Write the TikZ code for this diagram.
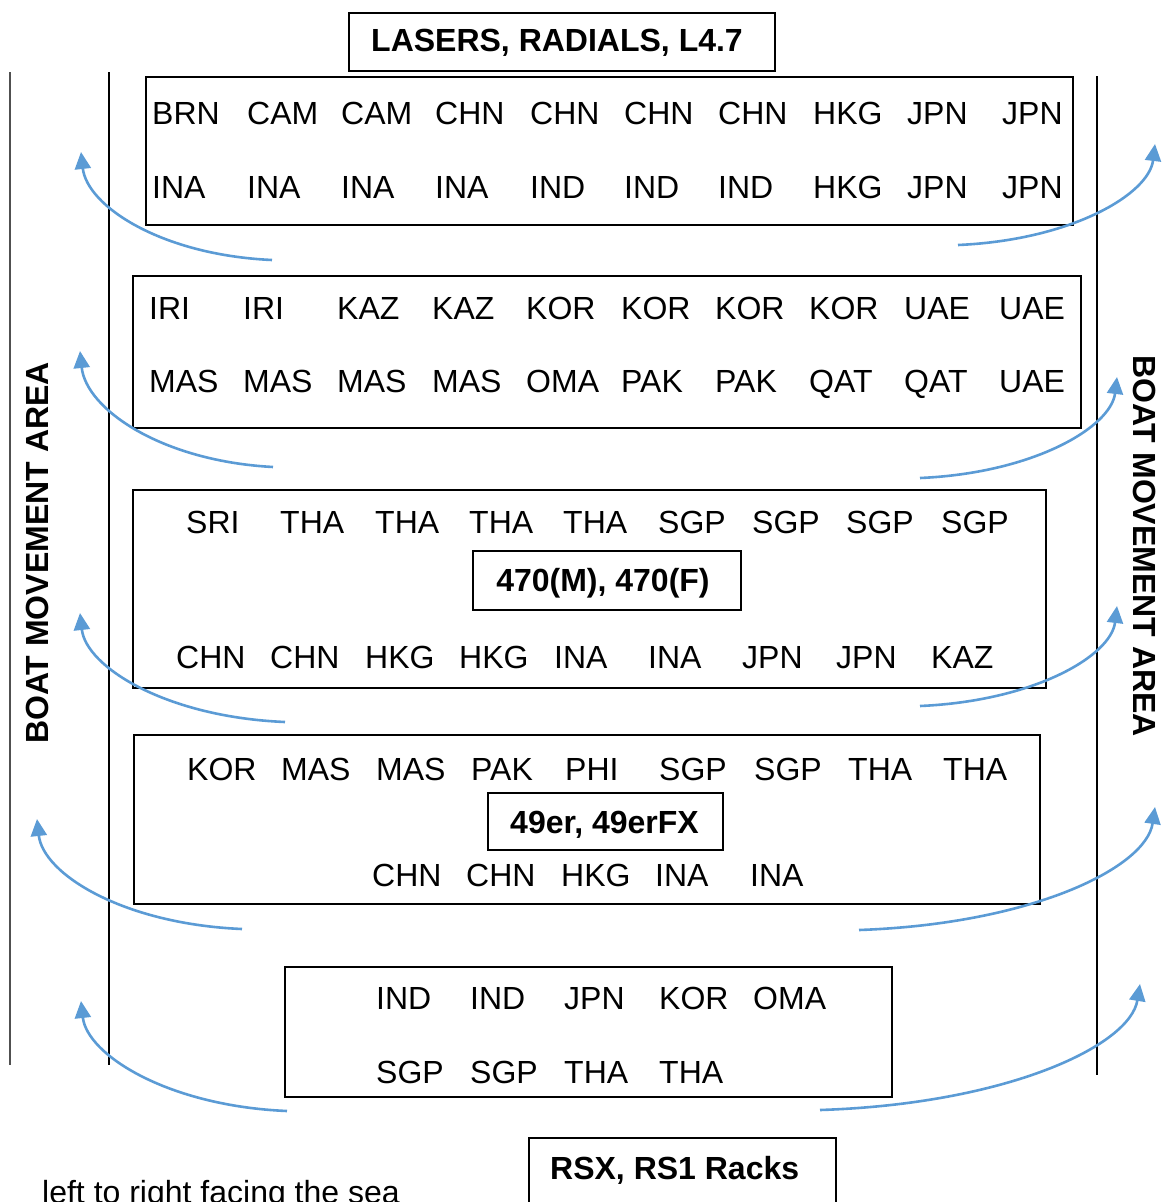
\documentclass[tikz,border=0pt]{standalone}
\usepackage{fontspec}
\setmainfont{Liberation Sans}
\usetikzlibrary{arrows.meta}
\definecolor{arrowblue}{HTML}{5B9BD5}
\definecolor{linegray}{HTML}{505050}
\newcommand\coderow[3]{\foreach \px/\ptext [count=\pi] in {#3} {\node[code] (#1-\pi) at (\px,#2) {\ptext};}}
\begin{document}
\begin{tikzpicture}[x=1pt,y=-1pt,
  box/.style={draw=black, line width=2pt, anchor=north west, inner sep=0pt},
  code/.style={anchor=base west, inner sep=0pt, font=\fontsize{32}{38}\selectfont},
  title/.style={inner sep=0pt, font=\fontsize{32}{38}\selectfont\bfseries, anchor=base},
  sidetext/.style={inner sep=0pt, font=\fontsize{32}{38}\selectfont\bfseries},
  flow/.style={draw=arrowblue, line width=2.6pt, -{Triangle[width=16pt,length=17pt]}},
]
\useasboundingbox (0,0) rectangle (1163,1202);
\clip (0,0) rectangle (1163,1202);

% vertical lines
\coordinate (lo-t) at (10,72);  \coordinate (lo-b) at (10,1065);
\coordinate (li-t) at (109,72); \coordinate (li-b) at (109,1065);
\coordinate (r-t) at (1097,76); \coordinate (r-b) at (1097,1075);
\draw[linegray, line width=2pt] (lo-t) -- (lo-b);
\draw[black, line width=1.3pt] (li-t) -- (li-b);
\draw[black, line width=1.3pt] (r-t) -- (r-b);

% side labels
\node[sidetext, rotate=90] (leftarea) at (37,553) {BOAT MOVEMENT AREA};
\node[sidetext, rotate=-90] (rightarea) at (1145,546) {BOAT MOVEMENT AREA};

% top title
\node[box, minimum width=426, minimum height=58] (lasersbox) at (348,12) {};
\node[title] (lasers) at (557,51) {LASERS, RADIALS, L4.7};

% box 1
\node[box, minimum width=927, minimum height=148] (b1) at (145,76) {};
\coderow{b1a}{124}{152/BRN,247/CAM,341/CAM,435/CHN,530/CHN,624/CHN,718/CHN,813/HKG,907/JPN,1002/JPN}
\coderow{b1b}{198}{152/INA,247/INA,341/INA,435/INA,530/IND,624/IND,718/IND,813/HKG,907/JPN,1002/JPN}

% box 2
\node[box, minimum width=948, minimum height=152] (b2) at (132,275) {};
\coderow{b2a}{319}{149/IRI,243/IRI,337/KAZ,432/KAZ,526/KOR,621/KOR,715/KOR,809/KOR,904/UAE,999/UAE}
\coderow{b2b}{392}{149/MAS,243/MAS,337/MAS,432/MAS,526/OMA,621/PAK,715/PAK,809/QAT,904/QAT,999/UAE}

% box 3
\node[box, minimum width=913, minimum height=198] (b3) at (132,489) {};
\coderow{b3a}{533}{186/SRI,280/THA,375/THA,469/THA,563/THA,658/SGP,752/SGP,846/SGP,941/SGP}
\node[box, minimum width=268, minimum height=59] (b3lab) at (472,550) {};
\node[title] (b3t) at (603,591) {470(M), 470(F)};
\coderow{b3b}{668}{176/CHN,270/CHN,365/HKG,459/HKG,554/INA,648/INA,742/JPN,836/JPN,931/KAZ}

% box 4
\node[box, minimum width=906, minimum height=169] (b4) at (133,734) {};
\coderow{b4a}{780}{187/KOR,281/MAS,376/MAS,471/PAK,565/PHI,659/SGP,754/SGP,848/THA,943/THA}
\node[box, minimum width=235, minimum height=57] (b4lab) at (487,792) {};
\node[title] (b4t) at (604.5,833) {49er, 49erFX};
\coderow{b4b}{886}{372/CHN,466/CHN,561/HKG,655/INA,750/INA}

% box 5
\node[box, minimum width=607, minimum height=130] (b5) at (284,966) {};
\coderow{b5a}{1009}{376/IND,470/IND,564/JPN,659/KOR,753/OMA}
\coderow{b5b}{1083}{376/SGP,470/SGP,564/THA,659/THA}

% bottom racks box
\node[box, minimum width=307, minimum height=100] (rsxbox) at (528,1137) {};
\node[title, anchor=base west] (rsx) at (550,1179) {RSX, RS1 Racks};

% cut-off note
\node[code] (note) at (42,1203) {left to right facing the sea};

% arrows left
\coordinate (l1s) at (272,260);  \coordinate (l1e) at (81,152);
\coordinate (l2s) at (273,467);  \coordinate (l2e) at (80,351);
\coordinate (l3s) at (285,722);  \coordinate (l3e) at (80,613);
\coordinate (l4s) at (242,929);  \coordinate (l4e) at (37,819);
\coordinate (l5s) at (287,1111); \coordinate (l5e) at (81,1001);
\draw[flow] (l1s) .. controls +(-111,-5) and +(6,54) .. (l1e);
\draw[flow] (l2s) .. controls +(-112,-6) and +(6,58) .. (l2e);
\draw[flow] (l3s) .. controls +(-119,-5) and +(6,54) .. (l3e);
\draw[flow] (l4s) .. controls +(-119,-5) and +(6,55) .. (l4e);
\draw[flow] (l5s) .. controls +(-119,-5) and +(6,54) .. (l5e);

% arrows right
\coordinate (r1s) at (958,245);  \coordinate (r1e) at (1155,144);
\coordinate (r2s) at (920,478);  \coordinate (r2e) at (1117,377);
\coordinate (r3s) at (920,706);  \coordinate (r3e) at (1117,606);
\coordinate (r4s) at (859,930);  \coordinate (r4e) at (1155,807);
\coordinate (r5s) at (820,1110); \coordinate (r5e) at (1140,984);
\draw[flow] (r1s) .. controls +(114,-5) and +(-6,50) .. (r1e);
\draw[flow] (r2s) .. controls +(114,-5) and +(-6,50) .. (r2e);
\draw[flow] (r3s) .. controls +(114,-5) and +(-6,50) .. (r3e);
\draw[flow] (r4s) .. controls +(172,-6) and +(-9,61) .. (r4e);
\draw[flow] (r5s) .. controls +(186,-6) and +(-10,62) .. (r5e);
\end{tikzpicture}
\end{document}
